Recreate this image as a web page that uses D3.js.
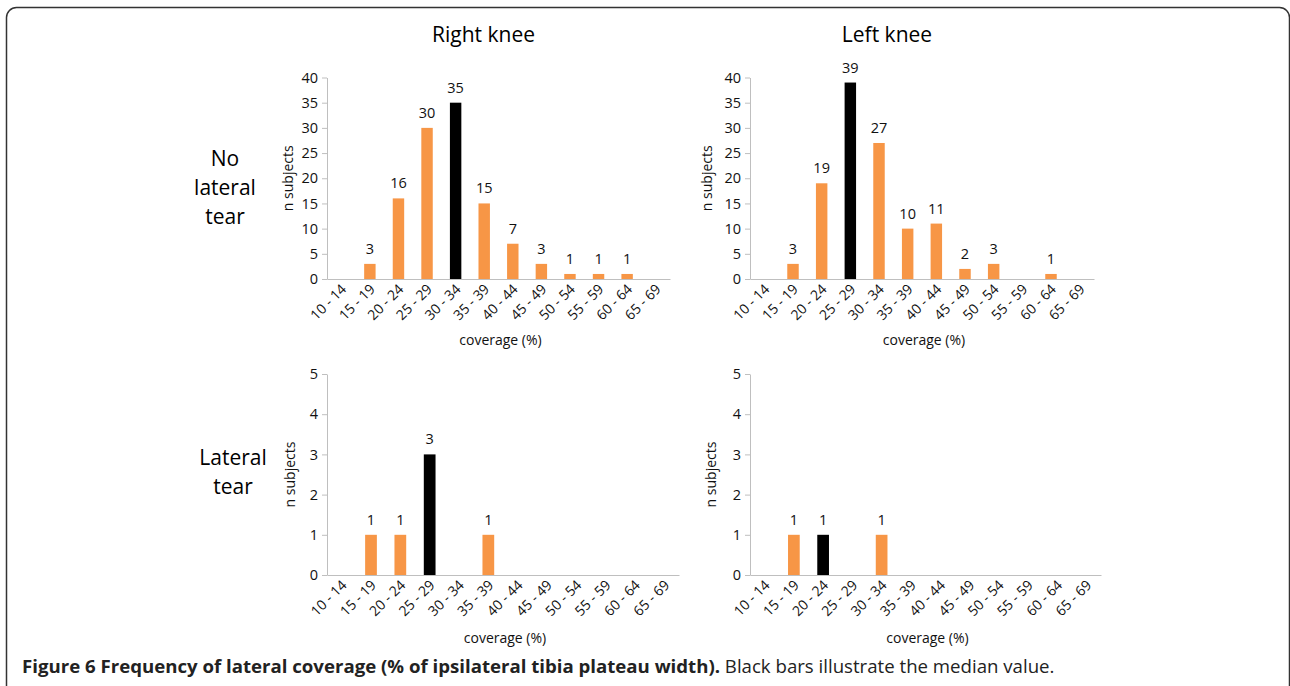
<!doctype html>
<html>
<head>
<meta charset="utf-8">
<title>Figure 6 - lateral coverage</title>
<script src="https://cdnjs.cloudflare.com/ajax/libs/d3/7.8.5/d3.min.js"></script>
<style>
  html, body { margin: 0; padding: 0; background: #fff; }
  svg { display: block; font-family: "Open Sans", sans-serif; }
  .axis path, .axis line { stroke: #bfbfbf; }
  .axis text { fill: #111; font-family: "Open Sans", sans-serif; }
</style>
</head>
<body>
<svg id="fig" width="1290" height="686"></svg>
<script>
// --- data ---
const bins = ["10 - 14", "15 - 19", "20 - 24", "25 - 29", "30 - 34", "35 - 39",
              "40 - 44", "45 - 49", "50 - 54", "55 - 59", "60 - 64", "65 - 69"];

const rightNoTear = [0, 3, 16, 30, 35, 15, 7, 3, 1, 1, 1, 0];
const leftNoTear  = [0, 3, 19, 39, 27, 10, 11, 2, 3, 0, 1, 0];
const rightTear   = [0, 1, 1, 3, 0, 1, 0, 0, 0, 0, 0, 0];
const leftTear    = [0, 1, 1, 0, 1, 0, 0, 0, 0, 0, 0, 0];

// bin holding the median (drawn black)
const rightNoTearMedian = "30 - 34";
const leftNoTearMedian  = "25 - 29";
const rightTearMedian   = "25 - 29";
const leftTearMedian    = "20 - 24";

const topTicks = [0, 5, 10, 15, 20, 25, 30, 35, 40];
const bottomTicks = [0, 1, 2, 3, 4, 5];

const columnTitles = ["Right knee", "Left knee"];
const rowTitles = [["No", "lateral", "tear"], ["Lateral", "tear"]];

// --- layout ---
const orange = "#f79646";
const svg = d3.select("#fig");

// frame
svg.append("rect")
  .attr("x", 6.5).attr("y", 7.5)
  .attr("width", 1283).attr("height", 760)
  .attr("rx", 10)
  .attr("fill", "none")
  .attr("stroke", "#333")
  .attr("stroke-width", 1.5);

const panels = [
  { values: rightNoTear, median: rightNoTearMedian, ticks: topTicks,
    x0: 327, x1: 670, y0: 279, y1: 77.5, ylabX: 288, labY: 345 },
  { values: leftNoTear, median: leftNoTearMedian, ticks: topTicks,
    x0: 750, x1: 1094, y0: 279, y1: 77.5, ylabX: 707, labY: 345 },
  { values: rightTear, median: rightTearMedian, ticks: bottomTicks,
    x0: 327, x1: 679, y0: 575, y1: 374, ylabX: 290, labY: 643 },
  { values: leftTear, median: leftTearMedian, ticks: bottomTicks,
    x0: 750, x1: 1101, y0: 575, y1: 374, ylabX: 711, labY: 643 }
];

panels.forEach(p => {
  const x = d3.scaleBand()
    .domain(bins)
    .range([p.x0, p.x1])
    .paddingInner(0.6)
    .paddingOuter(0.3);

  const y = d3.scaleLinear()
    .domain([0, d3.max(p.ticks)])
    .range([p.y0, p.y1]);

  const g = svg.append("g");

  // y axis
  g.append("g")
    .attr("class", "axis")
    .attr("transform", `translate(${p.x0},0)`)
    .call(d3.axisLeft(y).tickValues(p.ticks).tickFormat(d3.format("d"))
      .tickSize(5).tickSizeOuter(0).tickPadding(4))
    .call(a => a.selectAll("text").style("font-size", "14.5px"));

  // bars
  const rows = bins.map((b, i) => ({ bin: b, v: p.values[i] }));

  g.selectAll("rect.bar")
    .data(rows.filter(d => d.v > 0))
    .join("rect")
    .attr("class", "bar")
    .attr("x", d => x(d.bin))
    .attr("width", x.bandwidth())
    .attr("y", d => y(d.v))
    .attr("height", d => y(0) - y(d.v))
    .attr("fill", d => d.bin === p.median ? "#000" : orange);

  // value labels
  g.selectAll("text.val")
    .data(rows.filter(d => d.v > 0))
    .join("text")
    .attr("class", "val")
    .attr("x", d => x(d.bin) + x.bandwidth() / 2)
    .attr("y", d => y(d.v) - 10)
    .attr("text-anchor", "middle")
    .style("font-size", "14.5px")
    .attr("fill", "#111")
    .text(d => d.v);

  // x axis
  g.append("g")
    .attr("class", "axis")
    .attr("transform", `translate(0,${p.y0})`)
    .call(d3.axisBottom(x).tickSize(0).tickSizeOuter(0))
    .call(a => a.selectAll("text")
      .attr("x", 0).attr("y", 0).attr("dy", 0)
      .attr("text-anchor", "end")
      .attr("transform", "translate(6,11) rotate(-45)")
      .style("font-size", "14px"));

  // axis titles
  g.append("text")
    .attr("x", (p.x0 + p.x1) / 2 + 2)
    .attr("y", p.labY)
    .attr("text-anchor", "middle")
    .style("font-size", "14px")
    .attr("fill", "#111")
    .text("coverage (%)");

  g.append("text")
    .attr("transform", `translate(${p.ylabX + 5},${(p.y0 + p.y1) / 2}) rotate(-90)`)
    .attr("text-anchor", "middle")
    .style("font-size", "14px")
    .attr("fill", "#111")
    .text("n subjects");
});

// column titles
svg.selectAll("text.col")
  .data(columnTitles)
  .join("text")
  .attr("class", "col")
  .attr("x", (d, i) => [483.5, 887][i])
  .attr("y", 42)
  .attr("text-anchor", "middle")
  .style("font-size", "21px")
  .attr("fill", "#000")
  .text(d => d);

// row titles
rowTitles.forEach((lines, r) => {
  const t = svg.append("text")
    .attr("text-anchor", "middle")
    .style("font-size", "21px")
    .attr("fill", "#000");
  const cx = r === 0 ? 225 : 233;
  const by = r === 0 ? 166 : 465;
  t.selectAll("tspan")
    .data(lines)
    .join("tspan")
    .attr("x", cx)
    .attr("y", (d, i) => by + i * 29)
    .text(d => d);
});

// caption
const cap = svg.append("text")
  .attr("x", 22)
  .attr("y", 673)
  .style("font-size", "16px")
  .attr("fill", "#222");
cap.append("tspan")
  .style("font-weight", "bold")
  .text("Figure 6 Frequency of lateral coverage (% of ipsilateral tibia plateau width).");
cap.append("tspan")
  .text(" Black bars illustrate the median value.");

// fit caption width to the figure's
const capLen = cap.node().getComputedTextLength();
cap.style("font-size", (16 * 1033 / capLen).toFixed(2) + "px");
</script>
</body>
</html>
